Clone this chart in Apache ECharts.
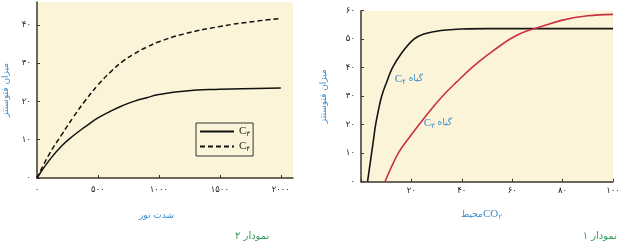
<!DOCTYPE html>
<html><head><meta charset="utf-8">
<script src="https://cdn.jsdelivr.net/npm/echarts@6/dist/echarts.min.js"></script>
<style>html,body{margin:0;padding:0;background:#fff}#c{width:624px;height:244px}</style>
</head><body><div id="c"></div>
<script>
// ---- Chart 2 (left): light intensity ----
const lightX = [0, 100, 200, 300, 400, 500, 600, 700, 800, 900, 1000, 1200, 1500, 1800, 2000];
const lightC3 = [0, 4.6, 8.3, 11.1, 13.5, 15.7, 17.4, 18.9, 20.1, 21.0, 21.8, 22.7, 23.2, 23.4, 23.5];
const lightC4 = [0, 6.2, 11.2, 16.0, 20.4, 24.3, 27.6, 30.4, 32.5, 34.2, 35.6, 37.6, 39.6, 41.0, 41.7];
const lightXTicks = [0, 500, 1000, 1500, 2000];
const lightXLabels = ['۰', '۵۰۰', '۱۰۰۰', '۱۵۰۰', '۲۰۰۰'];
const lightYTicks = [0, 10, 20, 30, 40];
const lightYLabels = ['۰', '۱۰', '۲۰', '۳۰', '۴۰'];

// ---- Chart 1 (right): CO2 ----
const co2C4X = [2.6, 3.4, 4.2, 5.0, 5.8, 6.9, 8.2, 10.2, 12.5, 16, 21, 25, 30, 35, 40, 50, 100];
const co2C4Y = [0, 5, 10, 15, 20, 25, 30, 35, 40, 45, 50, 51.8, 52.8, 53.3, 53.6, 53.7, 53.7];
const co2C3X = [9.5, 12.0, 14.8, 18.7, 23, 27.5, 32.3, 38, 44, 51, 59, 64, 70, 80, 90, 100];
const co2C3Y = [0, 5, 10, 15, 20, 25, 30, 35, 40, 45, 50, 52.3, 54, 56.7, 58.2, 58.7];
const co2XTicks = [0, 20, 40, 60, 80, 100];
const co2XLabels = ['', '۲۰', '۴۰', '۶۰', '۸۰', '۱۰۰'];
const co2YTicks = [0, 10, 20, 30, 40, 50, 60];
const co2YLabels = ['۰', '۱۰', '۲۰', '۳۰', '۴۰', '۵۰', '۶۰'];

const yTitle = 'میزان فتوسنتز';
const lightTitle = 'شدت نور';
const co2Title = 'محیط';
const chart2Caption = 'نمودار ۲';
const chart1Caption = 'نمودار ۱';
const plantWord = 'گیاه';

const zip = (a, b) => a.map((v, i) => [v, b[i]]);
const beige = '#FCF4D8';
const axisCol = '#3b352c';
const blue = '#3d8bc9';
const green = '#2f9e5a';
const fa = "'DejaVu Sans', sans-serif";
const serif = "'Liberation Serif', serif";
const mkLabels = (ticks, labels) => v => { const i = ticks.indexOf(v); return i >= 0 ? labels[i] : ''; };

const axisCommon = {
  axisLine: { lineStyle: { color: axisCol, width: 1.5 } },
  splitLine: { show: false }
};
const tick = vals => ({ inside: true, length: 3, customValues: vals, lineStyle: { color: axisCol } });
const lbl = (vals, labels, margin) => ({ customValues: vals, formatter: mkLabels(vals, labels), margin: margin, fontSize: 8.5, color: '#222', fontFamily: fa });

const plantLabel = (digit) => ({
  show: true, position: 'inside', formatter: '{c|C}{s|' + digit + '}{t| ' + plantWord + '}',
  rich: { c: { fontSize: 11, color: blue, fontFamily: serif },
          s: { fontSize: 7, color: blue, fontFamily: fa, padding: [6, 0, 0, 0] },
          t: { fontSize: 9, color: blue, fontFamily: fa } }
});

const chart = echarts.init(document.getElementById('c'));
chart.setOption({
  animation: false,
  backgroundColor: '#ffffff',
  grid: [
    { left: 37, top: 2, width: 256, height: 176, show: true, backgroundColor: beige, borderWidth: 0 },
    { left: 361, top: 10.7, width: 252, height: 171, show: true, backgroundColor: beige, borderWidth: 0 }
  ],
  xAxis: [
    Object.assign({ gridIndex: 0, type: 'value', min: 0, max: 2100,
      axisLabel: lbl(lightXTicks, lightXLabels, 7), axisTick: tick(lightXTicks) }, axisCommon),
    Object.assign({ gridIndex: 1, type: 'value', min: 0, max: 100,
      axisLabel: lbl(co2XTicks, co2XLabels, 5), axisTick: tick(co2XTicks) }, axisCommon)
  ],
  yAxis: [
    Object.assign({ gridIndex: 0, type: 'value', min: 0, max: 46,
      name: yTitle, nameLocation: 'middle', nameGap: 27, nameRotate: 90,
      nameTextStyle: { color: blue, fontSize: 9, fontFamily: fa },
      axisLabel: lbl(lightYTicks, lightYLabels, 6), axisTick: tick(lightYTicks) }, axisCommon),
    Object.assign({ gridIndex: 1, type: 'value', min: 0, max: 60,
      name: yTitle, nameLocation: 'middle', nameGap: 33, nameRotate: 90,
      nameTextStyle: { color: blue, fontSize: 9, fontFamily: fa },
      axisLabel: lbl(co2YTicks, co2YLabels, 6), axisTick: tick(co2YTicks) }, axisCommon)
  ],
  title: [
    { text: lightTitle, left: 134, top: 206, textStyle: { color: blue, fontSize: 9, fontWeight: 'normal', fontFamily: fa } },
    { text: '{t|' + co2Title + '}{c|CO}{s|۲}', left: 456, top: 203,
      textStyle: { fontWeight: 'normal', rich: {
        t: { color: blue, fontSize: 9, fontFamily: fa, fontWeight: 'normal' },
        c: { color: blue, fontSize: 11, fontFamily: serif, fontWeight: 'normal' },
        s: { color: blue, fontSize: 7, fontFamily: fa, fontWeight: 'normal', padding: [6, 0, 0, 0] } } } },
    { text: chart2Caption, left: 230, top: 226, textStyle: { color: green, fontSize: 10, fontWeight: 'normal', fontFamily: fa } },
    { text: chart1Caption, right: 2, top: 226, textStyle: { color: green, fontSize: 10, fontWeight: 'normal', fontFamily: fa } }
  ],
  legend: {
    data: ['C3', 'C4'],
    left: 196, top: 123, orient: 'vertical',
    padding: [3, 3, 3, 3], itemGap: 3, itemWidth: 34, itemHeight: 10,
    borderColor: '#333', borderWidth: 1, backgroundColor: beige,
    itemStyle: { color: 'rgba(0,0,0,0)', borderColor: 'rgba(0,0,0,0)', borderWidth: 0, opacity: 0 },
    formatter: n => '{c|C}{s|' + (n === 'C3' ? '۳' : '۴') + '}',
    textStyle: { rich: {
      c: { fontSize: 11, color: '#222', fontFamily: serif },
      s: { fontSize: 7, color: '#222', fontFamily: fa, padding: [6, 0, 0, 0] } } }
  },
  series: [
    { name: 'C3', type: 'line', xAxisIndex: 0, yAxisIndex: 0, data: zip(lightX, lightC3),
      smooth: 0.5, symbol: 'none', lineStyle: { color: '#111', width: 1.5 }, itemStyle: { color: '#111' } },
    { name: 'C4', type: 'line', xAxisIndex: 0, yAxisIndex: 0, data: zip(lightX, lightC4),
      smooth: 0.5, symbol: 'none', lineStyle: { color: '#111', width: 1.5, type: [5, 3] }, itemStyle: { color: '#111' } },
    { name: 'plantC4', type: 'line', xAxisIndex: 1, yAxisIndex: 1, data: zip(co2C4X, co2C4Y),
      smooth: 0.4, symbol: 'none', lineStyle: { color: '#151515', width: 1.6 },
      markPoint: { symbol: 'circle', symbolSize: 0, silent: true, data: [{ coord: [19, 36] }], label: plantLabel('۴') } },
    { name: 'plantC3', type: 'line', xAxisIndex: 1, yAxisIndex: 1, data: zip(co2C3X, co2C3Y),
      smooth: 0.4, symbol: 'none', lineStyle: { color: '#c8323f', width: 1.6 },
      markPoint: { symbol: 'circle', symbolSize: 0, silent: true, data: [{ coord: [30.5, 20.6] }], label: plantLabel('۳') } }
  ]
});
</script></body></html>
